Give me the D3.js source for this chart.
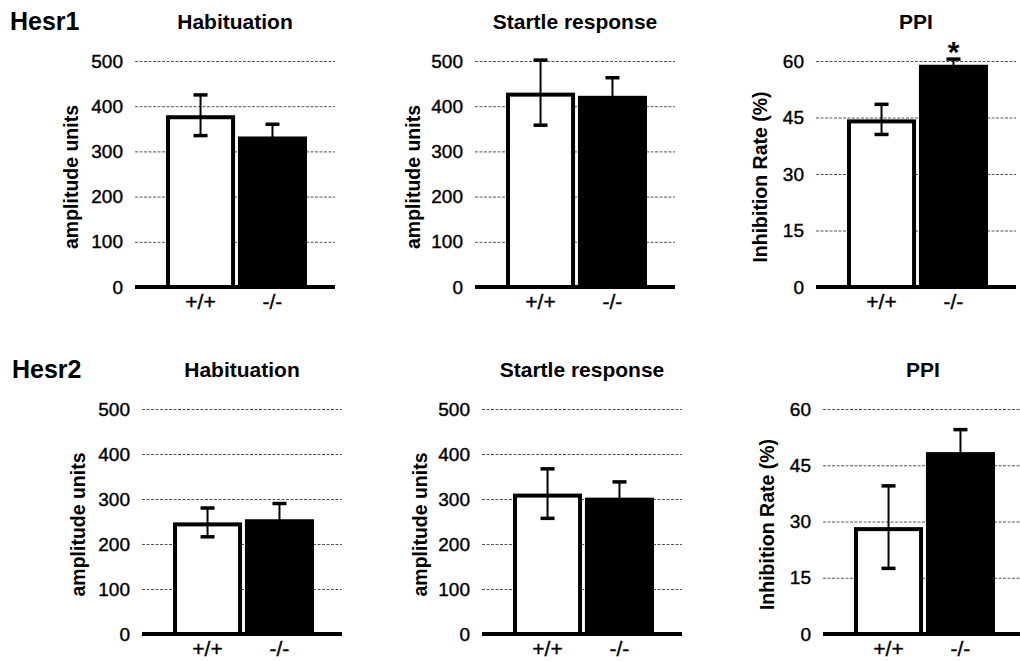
<!DOCTYPE html>
<html>
<head>
<meta charset="utf-8">
<script src="https://cdn.jsdelivr.net/npm/d3@7"></script>
<style>
  body { margin: 0; background: #fff; }
  text { font-family: "Liberation Sans", Arial, sans-serif; fill: #000; }
</style>
</head>
<body>
<div id="chart"></div>
<script>
// data
var genotypes = ["+/+", "-/-"];
var rowNames = ["Hesr1", "Hesr2"];
var tests = ["Habituation", "Startle response", "PPI"];
var yTitles = ["amplitude units", "amplitude units", "Inhibition Rate (%)"];
var ampTicks = [0, 100, 200, 300, 400, 500];
var ppiTicks = [0, 15, 30, 45, 60];
var hesr1Mean = [[380, 333], [430, 423], [44.5, 59]];
var hesr1Err = [[45, 27], [72, 40], [4, 1.5]];
var hesr1Stars = [["", ""], ["", ""], ["", "*"]];
var hesr2Mean = [[248, 255], [312, 303], [28.5, 48.5]];
var hesr2Err = [[32, 35], [55, 35], [11, 6]];
var hesr2Stars = [["", ""], ["", ""], ["", ""]];

var W = 1020, H = 661;
var rowTop = [61, 409], rowBase = [287, 634], rowShift = [0, 7];
var colLeft = [135, 475, 817], plotW = 200;
var labelOff = [64, 62, 56];

var svg = d3.select("#chart").append("svg")
    .attr("width", W).attr("height", H);
svg.append("rect").attr("width", W).attr("height", H).attr("fill", "#fff");

var means = [hesr1Mean, hesr2Mean], errs = [hesr1Err, hesr2Err], stars = [hesr1Stars, hesr2Stars];

rowNames.forEach(function(rn, r) {
    svg.append("text")
        .attr("x", 10 + r * 2).attr("y", rowTop[r] - 31)
        .attr("font-size", 25).attr("font-weight", "bold")
        .text(rn);

    tests.forEach(function(t, c) {
        var left = colLeft[c] + rowShift[r] - (c == 2 ? 1 : 0);
        var ticks = c == 2 ? ppiTicks : ampTicks;
        var y = d3.scaleLinear()
            .domain([0, d3.max(ticks)])
            .range([rowBase[r], rowTop[r]]);
        var x = d3.scaleBand()
            .domain(genotypes)
            .range([left + 31, left + 172])
            .paddingInner(0.04);
        var g = svg.append("g");

        // grid + tick labels
        var ax = g.append("g")
            .attr("transform", "translate(" + left + ",0)")
            .call(d3.axisLeft(y).tickValues(ticks).tickSize(-plotW).tickPadding(12));
        ax.select(".domain").remove();
        ax.selectAll(".tick line")
            .attr("stroke", "#555").attr("stroke-width", 1)
            .attr("stroke-dasharray", "3,1.5");
        ax.selectAll(".tick text")
            .attr("font-size", 19)
            .attr("stroke", "#000").attr("stroke-width", 0.4)
            .attr("font-family", "'Liberation Sans', Arial, sans-serif");

        g.append("text")
            .attr("x", left + plotW / 2).attr("y", rowTop[r] - 32)
            .attr("text-anchor", "middle")
            .attr("font-size", 21).attr("font-weight", "bold")
            .text(t);

        g.append("text")
            .attr("transform", "translate(" + (left - labelOff[c]) + "," + ((rowTop[r] + rowBase[r]) / 2 + 3) + ") rotate(-90)")
            .attr("dy", "0.35em")
            .attr("text-anchor", "middle")
            .attr("font-size", 19.5).attr("font-weight", "bold")
            .text(yTitles[c]);

        var m = means[r][c], e = errs[r][c], s = stars[r][c];

        genotypes.forEach(function(gt, i) {
            var bx = x(gt), bw = x.bandwidth();
            if (i == 0) {
                g.append("rect")
                    .attr("x", bx + 2).attr("y", y(m[i]) + 2)
                    .attr("width", bw - 4).attr("height", y(0) - y(m[i]) - 2)
                    .attr("fill", "#fff").attr("stroke", "#000").attr("stroke-width", 4);
            } else {
                g.append("rect")
                    .attr("x", bx).attr("y", y(m[i]))
                    .attr("width", bw).attr("height", y(0) - y(m[i]))
                    .attr("fill", "#000");
            }
            var cx = bx + bw / 2;
            g.append("line")
                .attr("x1", cx).attr("x2", cx)
                .attr("y1", y(m[i] - e[i])).attr("y2", y(m[i] + e[i]))
                .attr("stroke", "#000").attr("stroke-width", 2);
            [m[i] - e[i], m[i] + e[i]].forEach(function(v) {
                g.append("line")
                    .attr("x1", cx - 7).attr("x2", cx + 7)
                    .attr("y1", y(v)).attr("y2", y(v))
                    .attr("stroke", "#000").attr("stroke-width", 3.5);
            });
            if (s[i]) {
                g.append("text")
                    .attr("x", cx).attr("y", y(m[i] + e[i]) + 3)
                    .attr("text-anchor", "middle")
                    .attr("font-size", 30).attr("font-weight", "bold")
                    .text(s[i]);
            }
            g.append("text")
                .attr("x", cx).attr("y", rowBase[r] + 22)
                .attr("text-anchor", "middle")
                .attr("font-size", 21)
                .attr("stroke", "#000").attr("stroke-width", 0.4)
                .text(gt);
        });

        // thick baseline
        g.append("line")
            .attr("x1", left).attr("x2", left + plotW)
            .attr("y1", y(0)).attr("y2", y(0))
            .attr("stroke", "#000").attr("stroke-width", 4);
    });
});
</script>
</body>
</html>
